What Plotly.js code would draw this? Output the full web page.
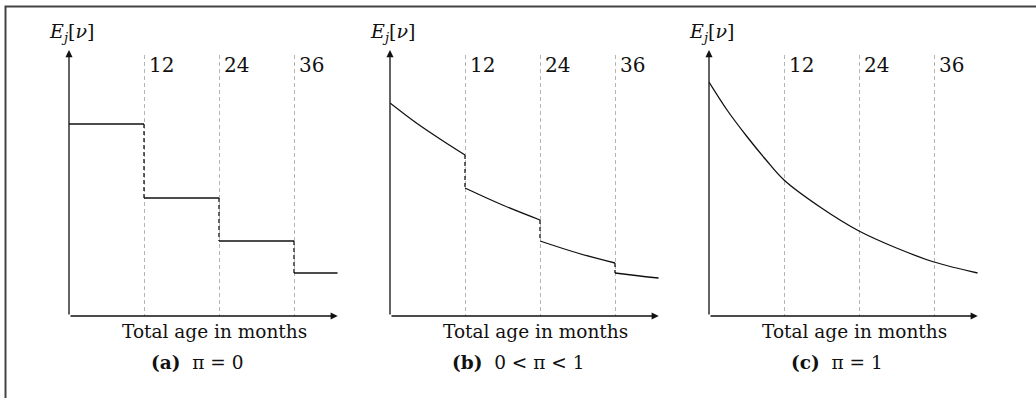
<!DOCTYPE html>
<html>
<head>
<meta charset="utf-8">
<script src="https://cdn.plot.ly/plotly-3.0.1.min.js"></script>
<style>html,body{margin:0;padding:0;background:#fff;}#chart{width:1036px;height:398px;}</style>
</head>
<body>
<div id="chart"></div>
<script>
// ---- data (arbitrary units) ----
const gridMonths = [12, 24, 36];
const tickLabels = ['12', '24', '36'];
const maxMonth = 43;

// (a) pi = 0 : constant value within each 12-month interval
const aStarts = [0, 12, 24, 36];
const aEnds   = [12, 24, 36, 43];
const aLevels = [192, 118, 75, 43];

// (b) 0 < pi < 1 : decaying within interval, jump down at boundaries
const bX = [[0, 4, 8, 12], [12, 18, 24], [24, 30, 36], [36, 40, 43]];
const bY = [[213, 194, 177, 161], [128, 111, 96], [75, 63, 53], [43, 40, 38]];

// (c) pi = 1 : smooth decay
const cX = [0, 3, 6, 9, 12, 18, 24, 30, 36, 43];
const cY = [234, 205, 180, 157, 136, 108, 85, 68, 54, 43];

const yAxisTop = 266;
const captions = ['<b>(a)</b>  π = 0', '<b>(b)</b>  0 < π < 1', '<b>(c)</b>  π = 1'];
const yLabel = '<i>E</i><sub><i>j</i></sub>[<i>ν</i>]';
const xLabel = 'Total age in months';

// ---- layout helpers ----
const W = 1036, H = 398;
const origins = [69, 390, 709];      // px of each y-axis
const pxPerMonth = 6.25;
const axisY = 316, gridTop = 55;
const FONT = 'DejaVu Serif, Liberation Serif, serif';
const LINE = '#111';

const traces = [];
const annotations = [];
const layout = {
  width: W, height: H, autosize: false,
  margin: {l: 0, r: 0, t: 0, b: 0, pad: 0},
  paper_bgcolor: '#fff', plot_bgcolor: 'rgba(0,0,0,0)',
  showlegend: false,
  font: {family: FONT, color: '#111', size: 18},
  shapes: [{
    type: 'path', xref: 'paper', yref: 'paper',
    path: `M ${5.5 / W},0 L ${5.5 / W},${1 - 6.5 / H} L 1,${1 - 6.5 / H}`,
    line: {color: '#444', width: 2}
  }],
  annotations: annotations
};

origins.forEach((x0, i) => {
  const n = i === 0 ? '' : String(i + 1);
  const xa = 'x' + n, ya = 'y' + n;
  layout['xaxis' + n] = {
    domain: [x0 / W, (x0 + maxMonth * pxPerMonth) / W],
    range: [0, maxMonth], anchor: ya,
    tickvals: gridMonths, showticklabels: false, ticks: '',
    showgrid: true, gridcolor: '#b5b5b5', gridwidth: 1, griddash: '4px,3px',
    zeroline: false, showline: false, fixedrange: true
  };
  layout['yaxis' + n] = {
    domain: [(H - axisY) / H, (H - gridTop) / H],
    range: [0, axisY - gridTop], anchor: xa,
    showgrid: false, showticklabels: false, ticks: '',
    zeroline: false, showline: false, fixedrange: true
  };
  // axis arrows
  annotations.push({
    xref: xa, yref: ya, axref: xa, ayref: ya,
    x: maxMonth, y: 0, ax: 0, ay: 0, text: '', showarrow: true,
    arrowhead: 2, arrowsize: 1.1, arrowwidth: 1.3, arrowcolor: LINE, standoff: 0
  });
  annotations.push({
    xref: xa, yref: ya, axref: xa, ayref: ya,
    x: 0, y: yAxisTop, ax: 0, ay: 0, text: '', showarrow: true,
    arrowhead: 2, arrowsize: 1.1, arrowwidth: 1.3, arrowcolor: LINE, standoff: 0
  });
  // month labels beside dashed lines
  gridMonths.forEach((m, k) => {
    annotations.push({
      xref: xa, yref: ya, x: m, y: axisY - 65, xanchor: 'left', yanchor: 'middle',
      xshift: 3, text: tickLabels[k], showarrow: false,
      font: {family: FONT, size: 20, color: '#111'}
    });
  });
  // y label
  annotations.push({
    xref: xa, yref: 'paper', x: 0.4, y: (H - 33) / H, xanchor: 'center', yanchor: 'middle',
    text: yLabel, showarrow: false, font: {family: FONT, size: 19, color: '#111'}
  });
  // x label
  annotations.push({
    xref: xa, yref: 'paper', x: 23.2, y: (H - 331) / H, xanchor: 'center', yanchor: 'middle',
    text: xLabel, showarrow: false, font: {family: FONT, size: 18.5, color: '#111'}
  });
  // caption
  annotations.push({
    xref: xa, yref: 'paper', x: 20.5, y: (H - 362) / H, xanchor: 'center', yanchor: 'middle',
    text: captions[i], showarrow: false, font: {family: FONT, size: 18.5, color: '#111'}
  });
});

// ---- panel (a) ----
{
  const hx = [], hy = [], vx = [], vy = [];
  aLevels.forEach((v, k) => {
    hx.push(aStarts[k], aEnds[k], null); hy.push(v, v, null);
    if (k > 0) { vx.push(aStarts[k], aStarts[k], null); vy.push(aLevels[k - 1], v, null); }
  });
  traces.push({x: hx, y: hy, xaxis: 'x', yaxis: 'y', mode: 'lines',
    line: {color: LINE, width: 1.3}, hoverinfo: 'skip'});
  traces.push({x: vx, y: vy, xaxis: 'x', yaxis: 'y', mode: 'lines',
    line: {color: LINE, width: 1.3, dash: '4px,3px'}, hoverinfo: 'skip'});
}

// ---- panel (b) ----
{
  bX.forEach((xs, k) => {
    traces.push({x: xs, y: bY[k], xaxis: 'x2', yaxis: 'y2', mode: 'lines',
      line: {color: LINE, width: 1.3, shape: 'spline'}, hoverinfo: 'skip'});
  });
  const vx = [], vy = [];
  for (let k = 1; k < bX.length; k++) {
    const prev = bY[k - 1];
    vx.push(bX[k][0], bX[k][0], null);
    vy.push(prev[prev.length - 1], bY[k][0], null);
  }
  traces.push({x: vx, y: vy, xaxis: 'x2', yaxis: 'y2', mode: 'lines',
    line: {color: LINE, width: 1.3, dash: '4px,3px'}, hoverinfo: 'skip'});
}

// ---- panel (c) ----
traces.push({x: cX, y: cY, xaxis: 'x3', yaxis: 'y3', mode: 'lines',
  line: {color: LINE, width: 1.3, shape: 'spline'}, hoverinfo: 'skip'});

Plotly.newPlot('chart', traces, layout, {staticPlot: true, displayModeBar: false});
</script>
</body>
</html>
